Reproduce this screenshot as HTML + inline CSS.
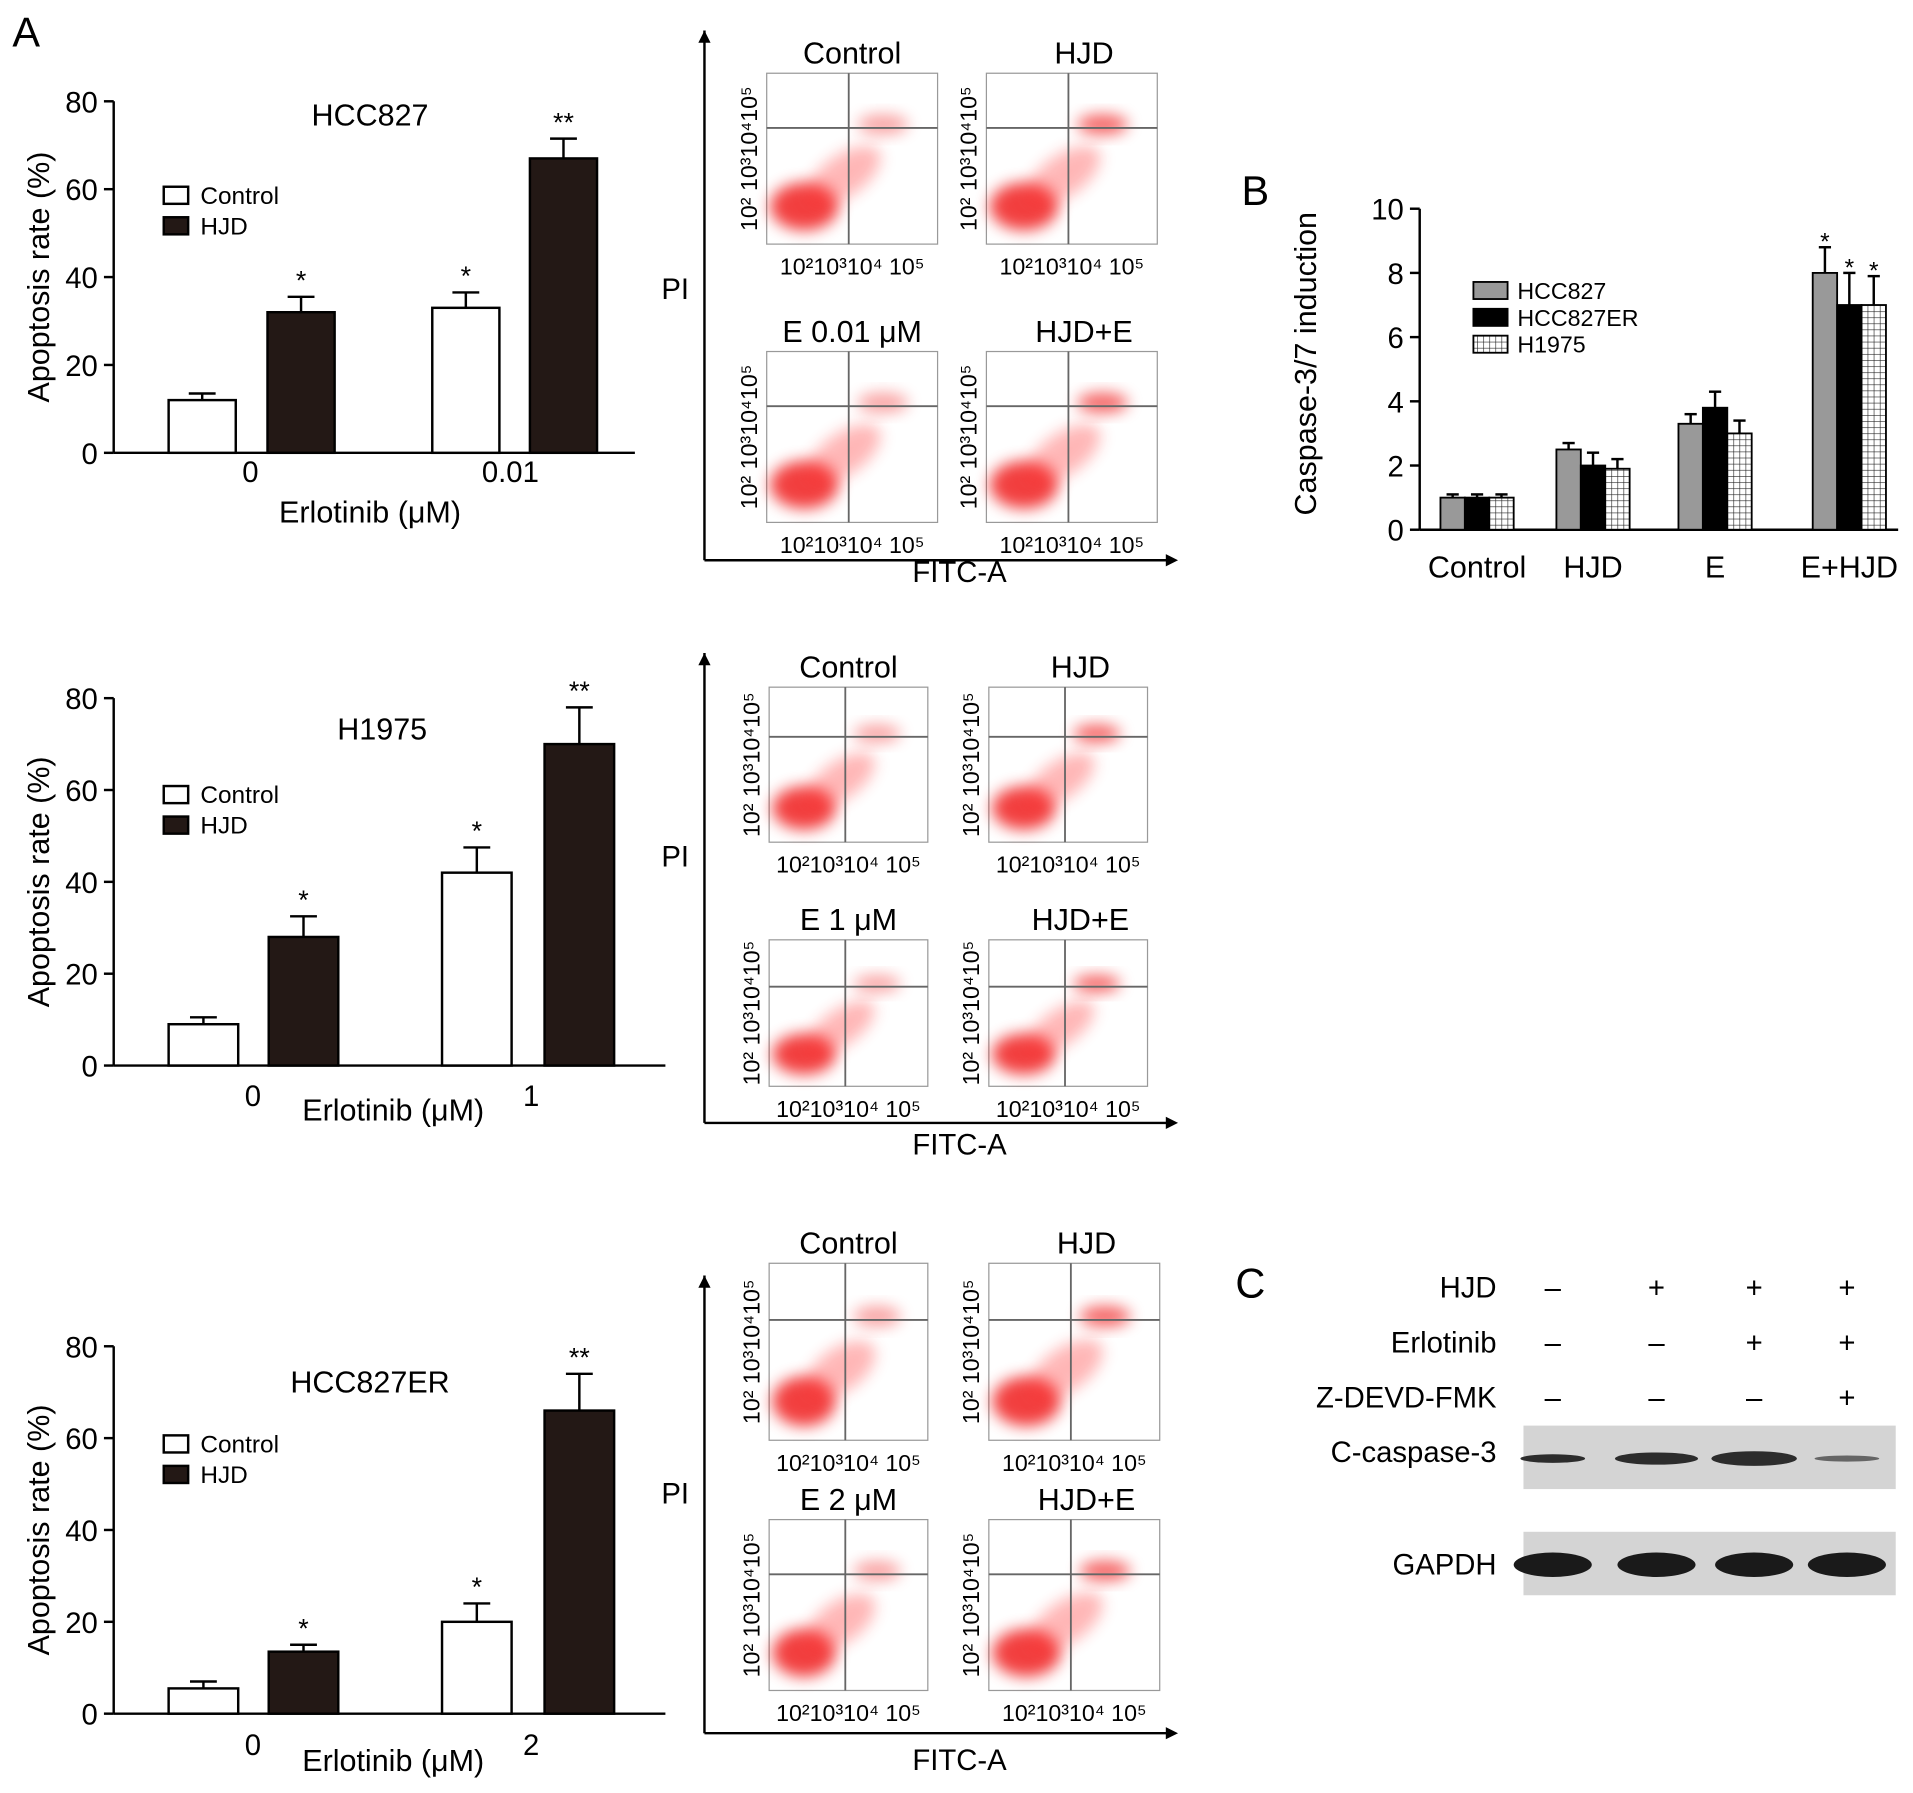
<!DOCTYPE html>
<html><head><meta charset="utf-8"><style>
html,body{margin:0;padding:0;background:#fff;}
svg{display:block;font-family:"Liberation Sans",sans-serif;}
</style></head><body>
<svg id="fig" width="1913" height="1793" viewBox="0 0 1567 1469" xmlns="http://www.w3.org/2000/svg">
<defs>
<filter id="blur" x="-50%" y="-50%" width="200%" height="200%"><feGaussianBlur stdDeviation="6"/></filter>
<pattern id="grid" width="5" height="5" patternUnits="userSpaceOnUse"><rect width="5" height="5" fill="#fff"/><path d="M0 0H5M0 0V5" stroke="#222" stroke-width="1"/></pattern>
</defs>
<text x="10" y="38" font-size="34">A</text>
<text x="1017" y="168" font-size="34">B</text>
<text x="1012" y="1063" font-size="34">C</text>
<g id="barsA"></g>
<g id="flow"></g>
<g id="chartB"></g>
<g id="blot"></g>
</svg>
<script>
const NS="http://www.w3.org/2000/svg";
function mk(p,tag,attrs,txt){const e=document.createElementNS(NS,tag);for(const k in attrs)e.setAttribute(k,attrs[k]);if(txt!==undefined)e.textContent=txt;p.appendChild(e);return e;}

// ---- Panel A bar data ----
const aTitles=["HCC827","H1975","HCC827ER"];
const aDoses=[["0","0.01"],["0","1"],["0","2"]];
const aControl=[[12,33],[9,42],[5.5,20]];
const aHJD=[[32,67],[28,70],[13.5,66]];
const aControlErr=[[1.5,3.5],[1.5,5.5],[1.5,4]];
const aHJDErr=[[3.5,4.5],[4.5,8],[1.5,8]];
const aCtrlStars=[["","*"],["","*"],["","*"]];
const aHJDStars=[["*","**"],["*","**"],["*","**"]];
const aTicks=[0,20,40,60,80];

const gA=document.getElementById('barsA');
const aLayout=[{top:83,bot:371,xr:520,xs:[[138,219],[354,434]],w:55,tx:303,ty:103,ly:160,tickY:395,tick:[205,418],xl:303,xly:428},
 {top:572,bot:873,xr:545,xs:[[138,220],[362,446]],w:57,tx:313,ty:606,ly:651,tickY:906,tick:[207,435],xl:322,xly:918},
 {top:1103,bot:1404,xr:545,xs:[[138,220],[362,446]],w:57,tx:303,ty:1141,ly:1183,tickY:1438,tick:[207,435],xl:322,xly:1451}];
aLayout.forEach((L,c)=>{
  const g=mk(gA,'g',{});
  
  
  const y=v=>L.bot-(v/80)*(L.bot-L.top);
  const ax=93;
  mk(g,'line',{x1:ax,y1:L.top,x2:ax,y2:L.bot,stroke:'#000','stroke-width':2});
  mk(g,'line',{x1:ax,y1:L.bot,x2:L.xr,y2:L.bot,stroke:'#000','stroke-width':2});
  aTicks.forEach(t=>{
    mk(g,'line',{x1:ax-8,y1:y(t),x2:ax,y2:y(t),stroke:'#000','stroke-width':2});
    const tl=mk(g,'text',{x:ax-13,y:y(t)+9,'font-size':24,'text-anchor':'end'},t);
    
    
  });
  const yl=mk(g,'text',{x:0,y:0,'font-size':25,'text-anchor':'middle',transform:`translate(40 ${(L.top+L.bot)/2}) rotate(-90)`},'Apoptosis rate (%)');
  
  
  const tt=mk(g,'text',{x:L.tx,y:L.ty,'font-size':25,'text-anchor':'middle'},aTitles[c]);
  
  
  for(let d=0;d<2;d++){
    [[aControl,aControlErr,'#fff',aCtrlStars],[aHJD,aHJDErr,'#231815',aHJDStars]].forEach((s,si)=>{
      const v=s[0][c][d],e=s[1][c][d],x=L.xs[d][si];
      mk(g,'line',{x1:x+L.w/2,y1:y(v),x2:x+L.w/2,y2:y(v+e),stroke:'#000','stroke-width':2});
      mk(g,'line',{x1:x+L.w/2-11,y1:y(v+e),x2:x+L.w/2+11,y2:y(v+e),stroke:'#000','stroke-width':2});
      const b=mk(g,'rect',{x:x,y:y(v),width:L.w,height:L.bot-y(v),fill:s[2],stroke:'#000','stroke-width':2});
      
      
      const lab=s[3][c][d];
      if(lab) mk(g,'text',{x:x+L.w/2,y:y(v+e)-6,'font-size':22,'text-anchor':'middle'},lab);
    });
    const tk=mk(g,'text',{x:L.tick[d],y:L.tickY,'font-size':24,'text-anchor':'middle'},aDoses[c][d]);
    
    
  }
  const xl=mk(g,'text',{x:L.xl,y:L.xly,'font-size':25,'text-anchor':'middle'},'Erlotinib (μM)');
  
  
  [['Control','#fff',0],['HJD','#231815',25]].forEach(l=>{
    const le=mk(g,'g',{});
    
    
    mk(le,'rect',{x:134,y:L.ly-7+l[2],width:20,height:14,fill:l[1],stroke:'#000','stroke-width':2});
    mk(le,'text',{x:164,y:L.ly+7+l[2],'font-size':20},l[0]);
  });
});

// ---- Flow cytometry panels (image-like) ----
const gF=document.getElementById('flow');
const fRows=[
 {boxes:[[628,60,140,140,'Control'],[808,60,140,140,'HJD'],[628,288,140,140,'E 0.01 μM'],[808,288,140,140,'HJD+E']],axTop:25,axBot:459,pi:245,fitc:477},
 {boxes:[[630,563,130,127,'Control'],[810,563,130,127,'HJD'],[630,770,130,120,'E 1 μM'],[810,770,130,120,'HJD+E']],axTop:535,axBot:920,pi:710,fitc:946},
 {boxes:[[630,1035,130,145,'Control'],[810,1035,140,145,'HJD'],[630,1245,130,140,'E 2 μM'],[810,1245,140,140,'HJD+E']],axTop:1045,axBot:1420,pi:1232,fitc:1450}];
fRows.forEach((R,r)=>{
  const g=mk(gF,'g',{});
  
  
  mk(g,'line',{x1:577,y1:R.axBot,x2:577,y2:R.axTop,stroke:'#000','stroke-width':2});
  mk(g,'path',{d:`M572 ${R.axTop+10}L577 ${R.axTop}L582 ${R.axTop+10}Z`,fill:'#000'});
  mk(g,'line',{x1:577,y1:R.axBot,x2:962,y2:R.axBot,stroke:'#000','stroke-width':2});
  mk(g,'path',{d:`M955 ${R.axBot-5}L965 ${R.axBot}L955 ${R.axBot+5}Z`,fill:'#000'});
  mk(g,'text',{x:553,y:R.pi,'font-size':24,'text-anchor':'middle'},'PI');
  mk(g,'text',{x:786,y:R.fitc,'font-size':24,'text-anchor':'middle'},'FITC-A');
  R.boxes.forEach((B,i)=>{
    const [x,y,w,h,t]=B;
    const p=mk(g,'g',{});
    
    
    mk(p,'rect',{x:x,y:y,width:w,height:h,fill:'#fff',stroke:'#999','stroke-width':1});
    mk(p,'ellipse',{cx:x+w*0.22,cy:y+h*0.78,rx:w*0.2,ry:h*0.14,fill:'#e00',opacity:0.75,filter:'url(#blur)'});
    mk(p,'ellipse',{cx:x+w*0.45,cy:y+h*0.6,rx:w*0.25,ry:h*0.12,fill:'#f33',opacity:0.35,filter:'url(#blur)',transform:`rotate(-35 ${x+w*0.45} ${y+h*0.6})`});
    mk(p,'ellipse',{cx:x+w*0.68,cy:y+h*0.3,rx:w*0.15,ry:h*0.06,fill:'#e00',opacity:i%2?0.6:0.35,filter:'url(#blur)'});
    mk(p,'line',{x1:x+w*0.48,y1:y,x2:x+w*0.48,y2:y+h,stroke:'#666','stroke-width':1.5});
    mk(p,'line',{x1:x,y1:y+h*0.32,x2:x+w,y2:y+h*0.32,stroke:'#666','stroke-width':1.5});
    mk(p,'text',{x:x+w/2+(i%2?10:0),y:y-8,'font-size':25,'text-anchor':'middle'},t);
    mk(p,'text',{x:x+w/2,y:y+h+25,'font-size':19,'text-anchor':'middle'},'10²10³10⁴ 10⁵');
    mk(p,'text',{x:0,y:0,'font-size':19,'text-anchor':'middle',transform:`translate(${x-8} ${y+h/2}) rotate(-90)`},'10² 10³10⁴10⁵');
  });
});

// ---- Panel B ----
const bGroups=["Control","HJD","E","E+HJD"];
const bHCC827=[1,2.5,3.3,8];
const bHCC827ER=[1,2,3.8,7];
const bH1975=[1,1.9,3,7];
const bErr827=[0.1,0.2,0.3,0.8];
const bErrER=[0.1,0.4,0.5,1.0];
const bErrH=[0.1,0.3,0.4,0.9];
const bTicks=[0,2,4,6,8,10];
const gB=document.getElementById('chartB');
(function(){
  const top=171,bot=434,ax=1163,cx=[1210,1305,1405,1515],bw=20;
  const y=v=>bot-(v/10)*(bot-top);
  mk(gB,'line',{x1:ax,y1:top,x2:ax,y2:bot,stroke:'#000','stroke-width':2});
  mk(gB,'line',{x1:ax,y1:bot,x2:1555,y2:bot,stroke:'#000','stroke-width':2});
  bTicks.forEach(t=>{
    mk(gB,'line',{x1:ax-8,y1:y(t),x2:ax,y2:y(t),stroke:'#000','stroke-width':2});
    const tl=mk(gB,'text',{x:ax-13,y:y(t)+9,'font-size':24,'text-anchor':'end'},t);
    
    
  });
  const yl=mk(gB,'text',{x:0,y:0,'font-size':25,'text-anchor':'middle',transform:`translate(1078 298) rotate(-90)`},'Caspase-3/7 induction');
  
  
  const series=[[bHCC827,bErr827,'#999','HCC827'],[bHCC827ER,bErrER,'#000','HCC827ER'],[bH1975,bErrH,'url(#grid)','H1975']];
  bGroups.forEach((gname,i)=>{
    series.forEach((s,si)=>{
      const v=s[0][i],e=s[1][i],x=cx[i]-1.5*bw+si*bw;
      mk(gB,'line',{x1:x+bw/2,y1:y(v),x2:x+bw/2,y2:y(v+e),stroke:'#000','stroke-width':2});
      mk(gB,'line',{x1:x+bw/2-5,y1:y(v+e),x2:x+bw/2+5,y2:y(v+e),stroke:'#000','stroke-width':2});
      const b=mk(gB,'rect',{x:x,y:y(v),width:bw,height:bot-y(v),fill:s[2],stroke:'#000','stroke-width':1.5});
      
      
      if(i===3) mk(gB,'text',{x:x+bw/2,y:y(v+e)+2,'font-size':20,'text-anchor':'middle'},'*');
    });
    const tk=mk(gB,'text',{x:cx[i],y:473,'font-size':25,'text-anchor':'middle'},gname);
    
    
  });
  series.forEach((s,si)=>{
    const le=mk(gB,'g',{});
    
    
    mk(le,'rect',{x:1207,y:231+si*22,width:28,height:14,fill:s[2],stroke:'#000','stroke-width':1.5});
    mk(le,'text',{x:1243,y:245+si*22,'font-size':19},s[3]);
  });
})();

// ---- Panel C western blot ----
const gC=document.getElementById('blot');
(function(){
  const cols=[1272,1357,1437,1513];
  const rows=[['HJD',1063,['–','+','+','+']],['Erlotinib',1108,['–','–','+','+']],['Z-DEVD-FMK',1153,['–','–','–','+']]];
  rows.forEach(r=>{
    const t=mk(gC,'text',{x:1226,y:r[1],'font-size':24,'text-anchor':'end'},r[0]);
    
    
    r[2].forEach((s,i)=>mk(gC,'text',{x:cols[i],y:r[1],'font-size':24,'text-anchor':'middle'},s));
  });
  mk(gC,'rect',{x:1248,y:1168,width:305,height:52,fill:'#d4d4d4'});
  mk(gC,'rect',{x:1248,y:1255,width:305,height:52,fill:'#d4d4d4'});
  mk(gC,'text',{x:1226,y:1198,'font-size':24,'text-anchor':'end'},'C-caspase-3');
  mk(gC,'text',{x:1226,y:1290,'font-size':24,'text-anchor':'end'},'GAPDH');
  const c3=[[45,7],[60,10],[62,12],[45,5]];
  cols.forEach((x,i)=>{
    const b=mk(gC,'ellipse',{cx:x,cy:1195,rx:c3[i][0]/2+4,ry:c3[i][1]/2,fill:'#1a1a1a',opacity:i===3?0.6:0.9});
    
    
    const g2=mk(gC,'ellipse',{cx:x,cy:1282,rx:32,ry:10,fill:'#1a1a1a'});
    
    
  });
})();
</script>
</body></html>
